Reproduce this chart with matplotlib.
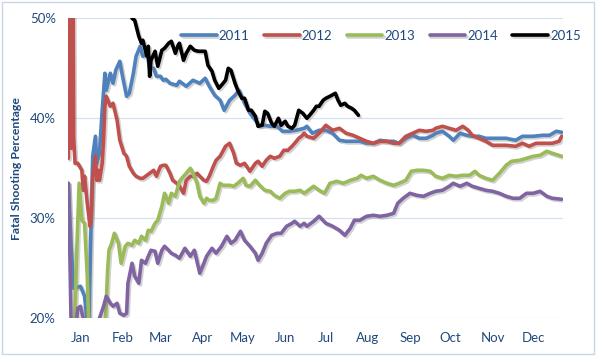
import matplotlib
matplotlib.use("Agg")
import matplotlib.pyplot as plt
import matplotlib.patheffects as pe
from matplotlib.patches import Rectangle
from matplotlib.ticker import FuncFormatter

plt.rcParams['font.family'] = ['Lato', 'DejaVu Sans']

# day of year (0 = Jan 1) and running fatal-shooting percentage
days_2011 = [0, 2, 4, 9, 12, 15, 17, 18, 20, 21,
             23, 25, 27, 28, 31, 33, 35, 38, 40, 43,
             45, 48, 50, 53, 55, 58, 60, 63, 65, 68,
             70, 72, 75, 80, 82, 87, 92, 97, 101, 104,
             108, 112, 115, 119, 123, 126, 130, 134, 138, 141,
             145, 149, 154, 158, 163, 168, 174, 176, 180, 185,
             190, 195, 200, 205, 210, 215, 220, 225, 230, 235,
             240, 244, 249, 254, 259, 264, 269, 271, 276, 281,
             284, 289, 294, 298, 303, 308, 316, 323, 330, 335,
             343, 350, 355, 360, 364]
pct_2011 = [33.5, 27.5, 23.0, 23.2, 22.2, 18.0, 30.8, 36.2, 38.2, 35.5,
            36.5, 40.8, 44.5, 42.8, 44.5, 43.5, 44.8, 45.7, 44.2, 42.2,
            42.5, 44.5, 46.2, 47.2, 46.2, 46.5, 45.0, 45.0, 44.2, 44.2,
            43.8, 43.9, 43.5, 43.3, 43.7, 43.2, 43.8, 43.5, 44.0, 43.2,
            42.3, 41.8, 40.8, 41.8, 42.3, 42.8, 41.5, 40.5, 39.8, 39.3,
            39.3, 39.2, 39.2, 38.7, 38.7, 38.8, 39.0, 39.2, 38.5, 38.8,
            38.8, 38.5, 37.8, 37.7, 37.7, 37.7, 37.5, 37.5, 37.8, 37.7,
            37.7, 37.5, 38.0, 38.3, 38.0, 38.0, 38.3, 38.5, 38.7, 38.2,
            37.8, 38.5, 38.3, 38.2, 38.2, 38.0, 38.0, 38.0, 37.8, 38.2,
            38.2, 38.3, 38.3, 38.7, 38.6]

days_2012 = [0, 1, 2, 3, 4, 5, 7, 10, 11, 12, 14,
             16, 17, 18, 20, 21, 22, 23, 25, 26, 27,
             28, 31, 33, 36, 38, 41, 43, 45, 48, 50,
             53, 55, 58, 60, 63, 65, 68, 70, 72, 75,
             77, 80, 82, 85, 87, 90, 92, 95, 97, 100,
             102, 104, 107, 109, 112, 116, 119, 122, 124, 127,
             130, 134, 138, 140, 143, 146, 149, 152, 156, 159,
             162, 165, 167, 170, 172, 174, 176, 181, 185, 190,
             195, 200, 205, 210, 215, 220, 225, 230, 235, 240,
             244, 249, 254, 259, 264, 269, 271, 276, 281, 286,
             291, 295, 298, 303, 308, 313, 318, 323, 330, 335,
             340, 345, 350, 357, 362, 364]
pct_2012 = [36, 90, 37, 70, 38, 35.5, 35.5, 34.8, 32.8, 34.2, 31.5,
            29.2, 30.2, 34.2, 36.2, 33.8, 34.8, 33.8, 35.5, 37.8, 41.2,
            42.2, 41.2, 41.5, 39.8, 37.8, 36.5, 36.2, 35.2, 34.5, 34.2,
            34.0, 34.0, 34.3, 34.5, 34.8, 34.2, 35.2, 35.3, 35.3, 34.5,
            33.8, 33.5, 33.2, 32.5, 33.8, 34.2, 34.2, 34.5, 34.2, 33.8,
            33.7, 34.2, 35.2, 35.8, 36.2, 37.2, 37.5, 36.5, 35.5, 35.3,
            35.5, 34.7, 35.5, 35.7, 35.2, 35.8, 36.2, 36.0, 36.2, 36.8,
            36.8, 37.2, 37.5, 38.0, 38.2, 38.5, 38.2, 38.0, 38.5, 39.3,
            38.8, 39.0, 38.5, 38.3, 38.0, 37.7, 37.5, 37.7, 37.7, 37.5,
            37.5, 38.2, 38.5, 38.8, 38.7, 38.8, 39.0, 39.2, 39.0, 38.8,
            39.2, 38.8, 38.3, 38.0, 37.7, 37.3, 37.3, 37.3, 37.2, 37.5,
            37.2, 37.5, 37.5, 37.5, 37.7, 38.2]

days_2013 = [0, 4, 6, 8, 10, 12, 14, 16, 26, 29,
             30, 32, 34, 37, 39, 42, 44, 47, 49, 52,
             54, 57, 59, 61, 64, 66, 69, 71, 74, 76,
             79, 81, 82, 85, 87, 90, 92, 95, 97, 100,
             102, 104, 107, 109, 112, 114, 117, 119, 122, 125,
             129, 131, 134, 138, 141, 145, 149, 152, 156, 160,
             163, 167, 171, 174, 176, 181, 185, 189, 193, 198,
             203, 208, 213, 216, 220, 225, 230, 235, 240, 244,
             249, 253, 257, 262, 267, 271, 276, 281, 286, 291,
             296, 300, 303, 308, 313, 318, 323, 327, 333, 338,
             343, 348, 353, 357, 364]
pct_2013 = [15, 16, 25.8, 33.5, 29.8, 29.5, 24.2, 15, 15, 24.8,
            26.8, 27.5, 28.5, 27.5, 25.5, 27.2, 27.5, 27.3, 27.8, 27.5,
            28.2, 27.8, 28.8, 28.7, 29.5, 29.8, 31.2, 32.5, 31.5, 32.5,
            32.2, 33.2, 33.7, 34.2, 34.5, 35.0, 34.5, 33.5, 32.2, 31.5,
            32.0, 31.8, 31.8, 32.0, 33.5, 33.3, 33.3, 33.3, 33.2, 33.5,
            34.0, 33.3, 33.2, 33.8, 33.3, 32.8, 32.7, 32.3, 32.0, 32.5,
            32.7, 32.7, 32.8, 32.5, 32.7, 33.2, 32.8, 32.5, 33.5, 33.7,
            33.5, 33.8, 34.0, 34.3, 34.0, 34.2, 33.8, 33.5, 33.3, 33.5,
            33.8, 34.7, 34.8, 34.8, 34.7, 34.2, 34.0, 34.3, 34.2, 34.3,
            34.3, 34.7, 34.3, 34.0, 33.8, 34.5, 35.3, 35.7, 35.8, 36.0,
            36.2, 36.3, 36.7, 36.5, 36.2]

days_2014 = [0, 1, 2, 4, 7, 9, 11, 13, 22, 23,
             26, 28, 31, 33, 36, 38, 41, 43, 44, 47,
             49, 52, 54, 57, 59, 61, 64, 66, 69, 71,
             74, 76, 79, 82, 86, 90, 93, 97, 100, 102,
             106, 109, 113, 117, 120, 123, 127, 130, 134, 138,
             140, 143, 146, 150, 154, 157, 161, 165, 167, 171,
             174, 176, 181, 185, 190, 195, 200, 204, 208, 211,
             215, 220, 225, 230, 235, 240, 243, 247, 252, 257,
             262, 267, 271, 276, 281, 284, 289, 294, 298, 303,
             308, 313, 318, 323, 328, 333, 338, 343, 348, 353,
             357, 364]
pct_2014 = [33.5, 27.5, 20.0, 17, 21.0, 21.2, 20.0, 17, 17, 20.0,
            21.2, 22.2, 21.5, 21.2, 21.5, 20.5, 20.3, 20.5, 23.5, 25.5,
            24.2, 23.5, 25.8, 25.5, 26.2, 26.8, 26.7, 25.5, 26.8, 27.2,
            26.8, 26.5, 26.3, 26.0, 27.0, 26.2, 26.8, 24.5, 25.5, 26.2,
            27.0, 26.5, 27.2, 28.2, 27.5, 27.8, 28.7, 27.8, 27.2, 26.5,
            25.8, 26.5, 27.5, 28.3, 28.5, 28.5, 29.2, 29.5, 29.7, 29.2,
            29.5, 29.2, 29.7, 30.2, 29.5, 29.2, 28.8, 28.3, 29.0, 29.8,
            29.8, 30.2, 30.3, 30.2, 30.3, 30.5, 31.5, 32.0, 32.5, 32.3,
            32.2, 32.5, 32.7, 32.8, 33.2, 33.5, 33.2, 33.5, 33.2, 33.0,
            32.8, 32.7, 32.5, 32.2, 32.0, 32.0, 32.5, 32.5, 32.7, 32.2,
            32.0, 31.9]

days_2015 = [38, 44, 47, 49, 52, 54, 55, 58, 59, 60,
             61, 64, 66, 69, 71, 74, 76, 79, 81, 82,
             85, 87, 90, 93, 96, 98, 101, 103, 106, 108,
             111, 113, 116, 118, 120, 123, 125, 128, 130, 133,
             135, 138, 140, 143, 145, 147, 150, 152, 155, 157,
             160, 162, 165, 167, 170, 173, 176, 178, 181, 183,
             185, 188, 190, 193, 197, 199, 201, 204, 206, 209,
             211, 214]
pct_2015 = [56, 51.5, 50.0, 49.8, 48.2, 47.5, 47.8, 46.2, 47.2, 44.2,
            45.8, 46.7, 45.2, 46.8, 47.0, 47.5, 47.7, 46.5, 47.3, 47.5,
            45.8, 46.5, 47.2, 46.8, 46.7, 46.7, 46.7, 45.3, 44.7, 43.8,
            43.0, 43.3, 43.8, 45.0, 44.8, 43.5, 42.8, 42.0, 42.0, 40.8,
            40.8, 40.2, 39.2, 39.3, 40.7, 40.5, 39.5, 39.2, 40.0, 39.3,
            39.7, 39.2, 39.0, 39.3, 40.8, 40.5, 40.0, 40.3, 40.8, 41.2,
            41.2, 41.8, 42.0, 42.2, 42.5, 41.8, 41.3, 41.5, 41.2, 41.0,
            40.8, 40.3]

months = ['Jan', 'Feb', 'Mar', 'Apr', 'May', 'Jun',
          'Jul', 'Aug', 'Sep', 'Oct', 'Nov', 'Dec']
month_starts = [0, 31, 59, 90, 120, 151, 181, 212, 243, 273, 304, 334]

series = [
    ('2011', days_2011, pct_2011, '#4F81BD'),
    ('2012', days_2012, pct_2012, '#C0504D'),
    ('2013', days_2013, pct_2013, '#9BBB59'),
    ('2014', days_2014, pct_2014, '#8064A2'),
    ('2015', days_2015, pct_2015, '#000000'),
]

text_color = '#1F497D'

fig = plt.figure(figsize=(5.97, 3.59), dpi=100)
ax = fig.add_axes([0.1144, 0.1134, 0.8288, 0.8357])

shadow = [pe.SimpleLineShadow(offset=(1.2, -1.2), shadow_color='gray', alpha=0.35),
          pe.Normal()]
handles = []
for name, d, v, c in series:
    line, = ax.plot(d, v, color=c, lw=2.6, solid_joinstyle='round',
                    solid_capstyle='round', path_effects=shadow, label=name)
    handles.append(line)

ax.set_xlim(0, 365)
ax.set_ylim(20, 50)
ax.set_yticks([20, 30, 40, 50])
ax.yaxis.set_major_formatter(FuncFormatter(lambda y, _: f'{y:.0f}%'))
ax.set_xticks([m + 9 for m in month_starts])
ax.set_xticklabels(months)
ax.tick_params(length=0, labelsize=9.5, labelcolor=text_color)
ax.tick_params(axis='x', pad=10)
ax.tick_params(axis='y', pad=9)
ax.grid(axis='y', color='#D5E1F0', lw=0.9)
ax.set_axisbelow(True)
for s in ax.spines.values():
    s.set_visible(False)

ax.set_ylabel('Fatal Shooting Percentage', color=text_color, fontsize=8.8,
              fontweight='bold')
ax.yaxis.set_label_coords(-0.093, 0.5)

fig.legend(handles=handles, loc='center', bbox_to_anchor=(381 / 597, 1 - 36 / 359),
           ncol=5, frameon=False, fontsize=9.5, handlelength=2.7,
           handletextpad=0.15, columnspacing=1.1, labelcolor=text_color)

fig.patches.append(Rectangle((1.5 / 597, 5 / 359), 592.5 / 597, 352.5 / 359,
                             transform=fig.transFigure, fill=False,
                             edgecolor='#C9D6E6', lw=1.0))

fig.savefig('out.png', dpi=100)
